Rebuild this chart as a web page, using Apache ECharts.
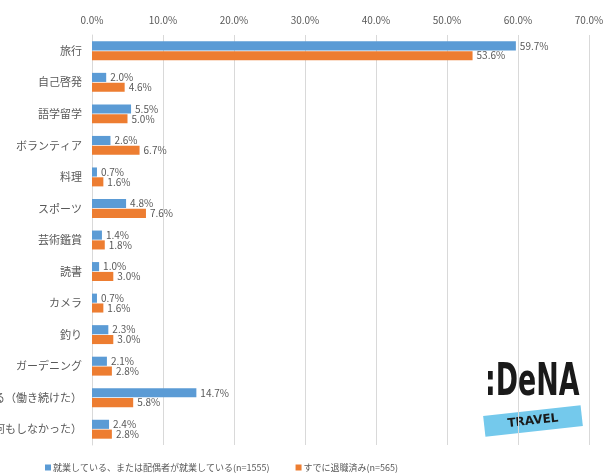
<!DOCTYPE html>
<html>
<head>
<meta charset="utf-8">
<script src="https://cdn.jsdelivr.net/npm/echarts@6/dist/echarts.min.js"></script>
<style>
  html, body { margin: 0; padding: 0; background: #fff; }
  #chart { width: 606px; height: 474px; }
</style>
</head>
<body>
<div id="chart"></div>
<script>
// categories, top to bottom
const categories = [
  '旅行', '自己啓発', '語学留学', 'ボランティア', '料理', 'スポーツ', '芸術鑑賞',
  '読書', 'カメラ', '釣り', 'ガーデニング', '仕事をしている（働き続けた）', '特になし（何もしなかった）'
];
// 就業している、または配偶者が就業している
const workingValues = [59.7, 2.0, 5.5, 2.6, 0.7, 4.8, 1.4, 1.0, 0.7, 2.3, 2.1, 14.7, 2.4];
// すでに退職済み
const retiredValues = [53.6, 4.6, 5.0, 6.7, 1.6, 7.6, 1.8, 3.0, 1.6, 3.0, 2.8, 5.8, 2.8];
const seriesNames = ['就業している、または配偶者が就業している(n=1555)', 'すでに退職済み(n=565)'];

const font = '"Noto Sans CJK JP", "Noto Sans", sans-serif';
const grey = '#595959';

const chart = echarts.init(document.getElementById('chart'));

function valueLabel() {
  return {
    show: true,
    position: 'right',
    distance: 4,
    fontSize: 10,
    fontFamily: font,
    color: grey,
    formatter: (p) => p.value.toFixed(1) + '%'
  };
}

const option = {
  animation: false,
  textStyle: { fontFamily: font },
  grid: { left: 92, right: 17, top: 35, bottom: 29, outerBoundsMode: 'none' },
  legend: {
    left: 40,
    top: 458,
    itemWidth: 6,
    itemHeight: 6,
    itemGap: 26,
    icon: 'rect',
    textStyle: { fontSize: 9, color: grey, fontFamily: font, padding: [0, 0, 0, -3] },
    data: seriesNames
  },
  xAxis: {
    type: 'value',
    position: 'top',
    min: 0,
    max: 70,
    interval: 10,
    axisLine: { show: false },
    axisTick: { show: false },
    axisLabel: {
      fontSize: 10,
      color: grey,
      margin: 10,
      formatter: (v) => v.toFixed(1) + '%'
    },
    splitLine: { lineStyle: { color: '#d9d9d9' } }
  },
  yAxis: {
    type: 'category',
    inverse: true,
    data: categories,
    axisLine: { lineStyle: { color: '#d9d9d9' } },
    axisTick: { show: false },
    axisLabel: { fontSize: 11, color: grey, margin: 10 }
  },
  series: [
    {
      name: seriesNames[0],
      type: 'bar',
      data: workingValues,
      barGap: '8%',
      barCategoryGap: '40%',
      itemStyle: { color: '#5b9bd5' },
      label: valueLabel()
    },
    {
      name: seriesNames[1],
      type: 'bar',
      data: retiredValues,
      itemStyle: { color: '#ed7d31' },
      label: valueLabel()
    }
  ],
  graphic: [
    {
      type: 'group',
      x: 485,
      y: 362,
      scaleX: 0.61,
      children: [
        {
          type: 'text',
          style: {
            text: ':DeNA',
            x: 0,
            y: 0,
            fontSize: 44,
            fontWeight: 'bold',
            fontFamily: '"DejaVu Sans", sans-serif',
            fill: '#1a1a1a'
          }
        }
      ]
    },
    {
      type: 'group',
      x: 533,
      y: 421,
      rotation: 0.11,
      children: [
        {
          type: 'rect',
          shape: { x: -49, y: -10.5, width: 98, height: 21 },
          style: { fill: '#74c9ec' }
        },
        {
          type: 'text',
          style: {
            text: 'TRAVEL',
            x: 0,
            y: 0,
            align: 'center',
            verticalAlign: 'middle',
            fontSize: 12,
            fontWeight: 'bold',
            fontFamily: '"DejaVu Sans", sans-serif',
            fill: '#1a1a1a'
          }
        }
      ]
    }
  ]
};

chart.setOption(option);
</script>
</body>
</html>
